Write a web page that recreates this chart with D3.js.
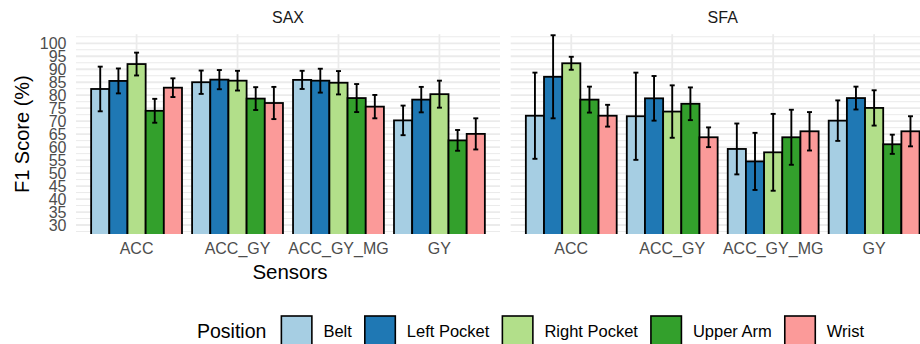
<!DOCTYPE html>
<html>
<head>
<meta charset="utf-8">
<script src="https://cdn.jsdelivr.net/npm/d3@7"></script>
<style>
  body { margin: 0; background: #fff; }
  svg { font-family: "Liberation Sans", Arial, Helvetica, sans-serif; display: block; }
</style>
</head>
<body>
<script>
// data
var sensors = ["ACC", "ACC_GY", "ACC_GY_MG", "GY"];
var positions = ["Belt", "Left Pocket", "Right Pocket", "Upper Arm", "Wrist"];
var methods = ["SAX", "SFA"];
var yTicks = [30, 35, 40, 45, 50, 55, 60, 65, 70, 75, 80, 85, 90, 95, 100];

// mean F1 per sensor (rows) and position (columns)
var saxMean = [
  [82.4, 85.5, 92.0, 74.0, 82.9],
  [85.0, 86.0, 85.6, 78.7, 77.0],
  [85.9, 85.6, 84.8, 78.9, 75.6],
  [70.3, 78.3, 80.4, 62.6, 65.1]
];
var saxSd = [
  [8.6, 4.8, 4.4, 4.6, 3.6],
  [4.5, 3.7, 3.8, 4.4, 6.2],
  [3.5, 4.6, 4.5, 5.4, 4.5],
  [5.7, 4.9, 5.2, 4.0, 6.0]
];
var sfaMean = [
  [72.1, 87.1, 92.3, 78.3, 72.1],
  [71.9, 78.8, 73.7, 76.7, 63.8],
  [59.3, 54.5, 58.0, 63.8, 66.1],
  [70.2, 78.9, 75.1, 61.1, 66.1]
];
var sfaSd = [
  [16.6, 16.0, 2.5, 5.0, 4.2],
  [16.8, 8.6, 10.1, 6.3, 3.8],
  [9.8, 11.0, 14.8, 10.6, 7.4],
  [7.8, 4.4, 6.8, 3.7, 5.8]
];
var colors = ["#A6CEE3", "#1F78B4", "#B2DF8A", "#33A02C", "#FB9A99"];

var width = 920, height = 344;
var panelW = 424, panelGap = 10.7;
var margin = {left: 76, top: 34.2, bottom: 234.1};

var svg = d3.select("body").append("svg")
    .attr("width", width)
    .attr("height", height);

var yScale = d3.scaleLinear()
    .domain([26.5, 103.5])
    .range([margin.bottom, margin.top]);

// discrete x, ggplot style: 0.6 step of expansion on each side
var xScale = d3.scalePoint()
    .domain(sensors)
    .range([panelW * 0.6 / 4.2, panelW * 3.6 / 4.2]);
var step = xScale.step();
var barW = step * 0.18;

var color = d3.scaleOrdinal().domain(positions).range(colors);

var meansByMethod = {SAX: saxMean, SFA: sfaMean};
var sdByMethod = {SAX: saxSd, SFA: sfaSd};

var defs = svg.append("defs");

methods.forEach(function(m, mi) {
    var x0 = margin.left + mi * (panelW + panelGap);
    var g = svg.append("g").attr("transform", "translate(" + x0 + ",0)");

    defs.append("clipPath").attr("id", "clip" + mi)
      .append("rect")
        .attr("x", -2).attr("y", margin.top)
        .attr("width", panelW + 4).attr("height", margin.bottom - margin.top);

    // minor grid
    var minor = [];
    for (var v = 27.5; v <= 102.5; v += 5) minor.push(v);
    g.selectAll("line.minor").data(minor).enter().append("line")
        .attr("x1", 0).attr("x2", panelW)
        .attr("y1", function(d) { return yScale(d); })
        .attr("y2", function(d) { return yScale(d); })
        .attr("stroke", "#ebebeb").attr("stroke-width", 1);

    // major grid
    g.selectAll("line.major").data(yTicks).enter().append("line")
        .attr("x1", 0).attr("x2", panelW)
        .attr("y1", function(d) { return yScale(d); })
        .attr("y2", function(d) { return yScale(d); })
        .attr("stroke", "#ebebeb").attr("stroke-width", 1.8);

    g.selectAll("line.vmajor").data(sensors).enter().append("line")
        .attr("x1", function(d) { return xScale(d); })
        .attr("x2", function(d) { return xScale(d); })
        .attr("y1", margin.top).attr("y2", margin.bottom)
        .attr("stroke", "#ebebeb").attr("stroke-width", 1.8);

    // strip title
    g.append("text")
        .attr("x", panelW / 2).attr("y", 17)
        .attr("text-anchor", "middle").attr("dominant-baseline", "central")
        .attr("font-size", 16).attr("fill", "#1a1a1a")
        .text(m);

    var rows = [];
    sensors.forEach(function(s, si) {
        positions.forEach(function(p, pi) {
            rows.push({
                sensor: s, pi: pi,
                mean: meansByMethod[m][si][pi],
                sd: sdByMethod[m][si][pi]
            });
        });
    });

    // bars
    var bars = g.append("g").attr("clip-path", "url(#clip" + mi + ")");
    bars.selectAll("rect").data(rows).enter().append("rect")
        .attr("x", function(d) { return xScale(d.sensor) + (d.pi - 2.5) * barW; })
        .attr("width", barW)
        .attr("y", function(d) { return yScale(d.mean); })
        .attr("height", function(d) { return margin.bottom + 5 - yScale(d.mean); })
        .attr("fill", function(d) { return color(positions[d.pi]); })
        .attr("stroke", "#000").attr("stroke-width", 1.8);

    // error bars
    var eb = g.append("g").attr("stroke", "#000").attr("stroke-width", 1.9);
    var capW = 5;
    rows.forEach(function(d) {
        var cx = xScale(d.sensor) + (d.pi - 2) * barW;
        var yt = yScale(d.mean + d.sd), yb = yScale(d.mean - d.sd);
        eb.append("line").attr("x1", cx).attr("x2", cx).attr("y1", yt).attr("y2", yb);
        [yt, yb].forEach(function(yy) {
            eb.append("line").attr("x1", cx - capW / 2).attr("x2", cx + capW / 2)
                .attr("y1", yy).attr("y2", yy);
        });
    });

    // x tick labels
    g.selectAll("text.xt").data(sensors).enter().append("text")
        .attr("x", function(d) { return xScale(d); })
        .attr("y", 248.5)
        .attr("text-anchor", "middle").attr("dominant-baseline", "central")
        .attr("font-size", 16).attr("fill", "#4d4d4d")
        .text(function(d) { return d; });
});

// y tick labels
svg.selectAll("text.yt").data(yTicks).enter().append("text")
    .attr("x", 66.5)
    .attr("y", function(d) { return yScale(d); })
    .attr("text-anchor", "end").attr("dominant-baseline", "central")
    .attr("font-size", 16).attr("fill", "#4d4d4d")
    .text(function(d) { return d; });

// axis titles
svg.append("text")
    .attr("transform", "translate(22," + ((margin.top + margin.bottom) / 2) + ") rotate(-90)")
    .attr("text-anchor", "middle").attr("dominant-baseline", "central")
    .attr("font-size", 20).attr("fill", "#000")
    .text("F1 Score (%)");

svg.append("text")
    .attr("x", 290).attr("y", 271)
    .attr("text-anchor", "middle").attr("dominant-baseline", "central")
    .attr("font-size", 20.5).attr("fill", "#000")
    .text("Sensors");

// legend
var legend = svg.append("g");
var lx = 197, ly = 331, keyW = 30.5;
var title = legend.append("text")
    .attr("x", lx).attr("y", ly)
    .attr("dominant-baseline", "central")
    .attr("font-size", 19.5).attr("fill", "#000")
    .text("Position");
lx += title.node().getComputedTextLength() + 15;
positions.forEach(function(p) {
    legend.append("rect")
        .attr("x", lx).attr("y", 316)
        .attr("width", keyW).attr("height", 30)
        .attr("fill", color(p)).attr("stroke", "#000").attr("stroke-width", 1.6);
    lx += keyW + 11.5;
    var t = legend.append("text")
        .attr("x", lx).attr("y", ly)
        .attr("dominant-baseline", "central")
        .attr("font-size", 16.5).attr("fill", "#000")
        .text(p);
    lx += t.node().getComputedTextLength() + 13;
});
</script>
</body>
</html>
